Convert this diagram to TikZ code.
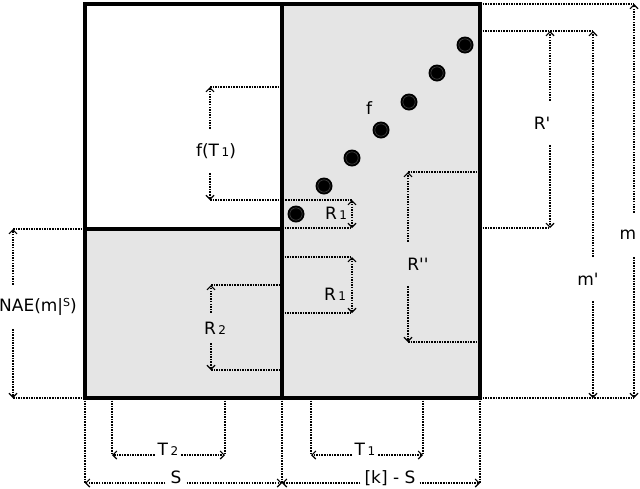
\documentclass[tikz,border=0pt]{standalone}
\usepackage{fontspec}
\newfontfamily\dvfont{DejaVu Sans}
\usetikzlibrary{arrows.meta}
\newcommand{\lowidx}[1]{\hspace{2.5pt}{\fontsize{12}{12}\selectfont #1}}
\newcommand{\upidx}[1]{\raisebox{5pt}{\fontsize{11}{11}\selectfont #1}}
\begin{document}
\begin{tikzpicture}[x=1pt,y=-1pt,
  font=\dvfont\fontsize{17}{20}\selectfont,
  >={Straight Barb[length=4pt,width=8pt,line width=1.1pt]},
  boxline/.style={line width=4.2pt},
  dim/.style={line width=1.3pt, dash pattern=on 1.5pt off 1.1pt},
  arr/.style={dim,->},
  darr/.style={dim,<->},
  vlab/.style={inner sep=0pt, minimum height=44pt},
  hlab/.style={inner xsep=3pt, inner ysep=0pt, anchor=base},
  plainlab/.style={inner sep=0pt},
  dot/.style={circle, fill=black, minimum size=17pt, inner sep=0pt,
    path picture={\draw[gray!55!black, line width=0.6pt] (path picture bounding box.center) circle (6.2pt);}}
]
\useasboundingbox (0,0) rectangle (640,488);
% fills
\fill[gray!20] (282,4) rectangle (480,398);
\fill[gray!20] (85,229) rectangle (282,398);

% f(T1)
\coordinate (fTt) at (210,87);
\coordinate (fTtR) at (282,87);
\coordinate (fTb) at (210,200);
\node[vlab] (fT) at (216,151) {f(T\lowidx{1})};
\draw[dim] (fTt) -- (fTtR);
\draw[arr] (fT.north -| fTt) -- (fTt);
\draw[arr] (fT.south -| fTb) -- (fTb);

% R1 upper
\coordinate (r1ua) at (352,200);
\coordinate (r1ub) at (352,228);
\coordinate (r1ubL) at (282,228);
\draw[dim] (fTb) -- (r1ua);
\draw[dim] (r1ubL) -- (r1ub);
\draw[darr] (r1ua) -- (r1ub);
\node[plainlab] (r1u) at (336,213) {R\lowidx{1}};

% R1 lower
\coordinate (r1la) at (352,257);
\coordinate (r1laL) at (282,257);
\coordinate (r1lb) at (352,313);
\coordinate (r1lbL) at (282,313);
\draw[dim] (r1laL) -- (r1la);
\draw[dim] (r1lbL) -- (r1lb);
\draw[darr] (r1la) -- (r1lb);
\node[plainlab] (r1l) at (335,294) {R\lowidx{1}};

% R''
\coordinate (rppt) at (408,172);
\coordinate (rpptR) at (480,172);
\coordinate (rppb) at (408,342);
\coordinate (rppbR) at (480,342);
\draw[dim] (rppt) -- (rpptR);
\draw[dim] (rppb) -- (rppbR);
\node[vlab] (rpp) at (418,264) {R''};
\draw[arr] (rpp.north -| rppt) -- (rppt);
\draw[arr] (rpp.south -| rppb) -- (rppb);

% R'
\coordinate (rpt) at (550,31);
\coordinate (rptL) at (480,31);
\coordinate (mpt) at (593,31);
\coordinate (rpb) at (550,228);
\coordinate (rpbL) at (480,228);
\draw[dim] (rptL) -- (mpt);
\draw[dim] (rpbL) -- (rpb);
\node[vlab] (rp) at (542,123) {R'};
\draw[arr] (rp.north -| rpt) -- (rpt);
\draw[arr] (rp.south -| rpb) -- (rpb);

% m'
\coordinate (mpb) at (593,398);
\node[vlab] (mp) at (588,279) {m'};
\draw[arr] (mp.north -| mpt) -- (mpt);
\draw[arr] (mp.south -| mpb) -- (mpb);

% m
\coordinate (mt) at (634,4);
\coordinate (mtL) at (480,4);
\coordinate (mb) at (634,398);
\coordinate (mbL) at (480,398);
\draw[dim] (mtL) -- (mt);
\draw[dim] (mbL) -- (mb);
\node[vlab] (m) at (628,235) {m};
\draw[arr] (m.north -| mt) -- (mt);
\draw[arr] (m.south -| mb) -- (mb);

% NAE
\coordinate (nt) at (13,229);
\coordinate (ntR) at (85,229);
\coordinate (nb) at (13,398);
\coordinate (nbR) at (85,398);
\draw[dim] (nt) -- (ntR);
\draw[dim] (nb) -- (nbR);
\node[vlab] (nae) at (38,307) {NAE(m|\upidx{S})};
\draw[arr] (nae.north -| nt) -- (nt);
\draw[arr] (nae.south -| nb) -- (nb);

% R2
\coordinate (r2t) at (211,285);
\coordinate (r2tR) at (282,285);
\coordinate (r2b) at (211,370);
\coordinate (r2bR) at (282,370);
\draw[dim] (r2t) -- (r2tR);
\draw[dim] (r2b) -- (r2bR);
\node[vlab, minimum height=30pt] (r2) at (215,328) {R\lowidx{2}};
\draw[arr] (r2.north -| r2t) -- (r2t);
\draw[arr] (r2.south -| r2b) -- (r2b);

% T2
\coordinate (t2lt) at (112,398);
\coordinate (t2l) at (112,455);
\coordinate (t2rt) at (225,398);
\coordinate (t2r) at (225,455);
\draw[dim] (t2lt) -- (t2l);
\draw[dim] (t2rt) -- (t2r);
\node[hlab] (t2) at (168,455) {T\lowidx{2}};
\draw[arr] (t2.base west) -- (t2l);
\draw[arr] (t2.base east) -- (t2r);

% S
\coordinate (slt) at (85,398);
\coordinate (sl) at (85,483);
\coordinate (srt) at (282,398);
\coordinate (sr) at (282,483);
\draw[dim] (slt) -- (sl);
\draw[dim] (srt) -- (sr);
\node[hlab, inner xsep=5pt] (s) at (176,483) {S};
\draw[arr] (s.base west) -- (sl);
\draw[arr] (s.base east) -- (sr);

% T1
\coordinate (t1lt) at (311,398);
\coordinate (t1l) at (311,455);
\coordinate (t1rt) at (423,398);
\coordinate (t1r) at (423,455);
\draw[dim] (t1lt) -- (t1l);
\draw[dim] (t1rt) -- (t1r);
\node[hlab] (t1) at (365,455) {T\lowidx{1}};
\draw[arr] (t1.base west) -- (t1l);
\draw[arr] (t1.base east) -- (t1r);

% [k] - S
\coordinate (krt) at (480,398);
\coordinate (kr) at (480,483);
\node[hlab, inner xsep=4pt] (ks) at (390,483) {[k] - S};
\draw[dim] (krt) -- (kr);
\draw[arr] (ks.base west) -- (sr);
\draw[arr] (ks.base east) -- (kr);

% box
\draw[boxline] (85,4) rectangle (480,398);
\draw[boxline] (282,4) -- (282,398);
\draw[boxline] (85,229) -- (282,229);

% dots
\node[dot] (d1) at (296,214) {};
\node[dot] (d2) at (324,186) {};
\node[dot] (d3) at (352,158) {};
\node[dot] (d4) at (381,130) {};
\node[dot] (d5) at (409,102) {};
\node[dot] (d6) at (437,73) {};
\node[dot] (d7) at (465,45) {};
\node[plainlab] (f) at (369,108) {f};
\end{tikzpicture}
\end{document}
